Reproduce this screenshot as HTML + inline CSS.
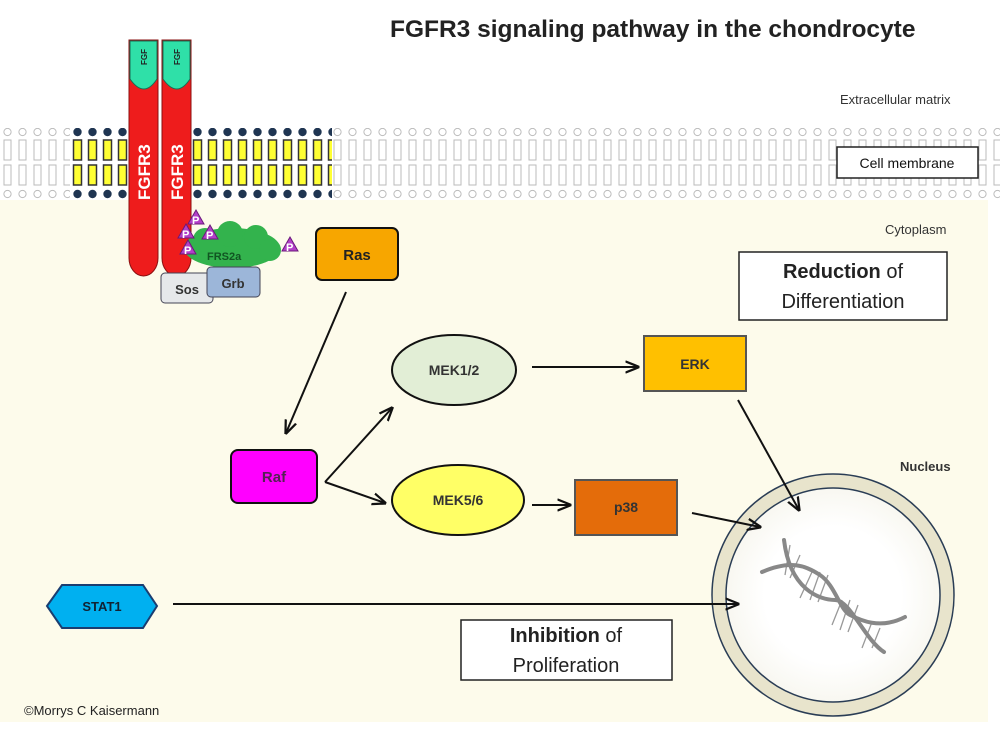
<!DOCTYPE html>
<html><head><meta charset="utf-8"><style>
html,body{margin:0;padding:0;background:#fff}
svg{display:block}
text{font-family:"Liberation Sans",sans-serif}
</style></head><body>
<svg width="1000" height="731" viewBox="0 0 1000 731" xmlns="http://www.w3.org/2000/svg">
<defs>
<marker id="ah" viewBox="0 0 10 10" refX="9" refY="5" markerWidth="7" markerHeight="7" orient="auto"><path d="M0,1 L10,5 L0,9" fill="none" stroke="#111" stroke-width="1.6"/></marker>
<radialGradient id="nuc" cx="0.5" cy="0.5" r="0.5"><stop offset="0.6" stop-color="#fff"/><stop offset="1" stop-color="#f7f6ee"/></radialGradient>
<pattern id="lipG" x="0" y="128" width="15" height="72" patternUnits="userSpaceOnUse">
<circle cx="7.5" cy="4" r="3.6" fill="#fff" stroke="#bbb" stroke-width="1"/>
<rect x="4" y="12" width="7" height="20" fill="#fff" stroke="#bbb" stroke-width="1"/>
<rect x="4" y="37" width="7" height="20" fill="#fff" stroke="#bbb" stroke-width="1"/>
<circle cx="7.5" cy="66" r="3.6" fill="#fff" stroke="#bbb" stroke-width="1"/>
</pattern>
<pattern id="lipC" x="70" y="128" width="15" height="72" patternUnits="userSpaceOnUse">
<circle cx="7.5" cy="4" r="4.2" fill="#1f3552"/>
<rect x="3.5" y="12" width="8" height="20" fill="#ffff33" stroke="#333" stroke-width="1.5"/>
<rect x="3.5" y="37" width="8" height="20" fill="#ffff33" stroke="#333" stroke-width="1.5"/>
<circle cx="7.5" cy="66" r="4.2" fill="#1f3552"/>
</pattern>
</defs>
<rect x="0" y="200" width="988" height="522" fill="#fdfbeb"/>
<text x="390" y="37" font-size="24.5" font-weight="bold" fill="#222">FGFR3 signaling pathway in the chondrocyte</text>
<text x="840" y="104" font-size="13" fill="#333">Extracellular matrix</text>
<rect x="0" y="128" width="1000" height="72" fill="url(#lipG)"/>
<rect x="70" y="128" width="262" height="72" fill="#fff"/>
<rect x="70" y="128" width="262" height="72" fill="url(#lipC)"/>
<rect x="837" y="147" width="141" height="31" fill="#fff" stroke="#222" stroke-width="1.5"/>
<text x="907" y="168" font-size="14" text-anchor="middle" fill="#111">Cell membrane</text>
<text x="885" y="234" font-size="13" fill="#333">Cytoplasm</text>
<!-- receptors -->
<path d="M129,40 h29 v218 a14.5,18 0 0 1 -29,0 z" fill="#ee1c1c" stroke="#8a1010" stroke-width="1"/>
<path d="M162,40 h29 v218 a14.5,18 0 0 1 -29,0 z" fill="#ee1c1c" stroke="#8a1010" stroke-width="1"/>
<path d="M130,41 h27 v38 q-13,20 -27,0 z" fill="#2fe0a8" stroke="#1a6d55"/>
<path d="M163,41 h27 v38 q-13,20 -27,0 z" fill="#2fe0a8" stroke="#1a6d55"/>
<text transform="translate(147,65) rotate(-90)" font-size="8" font-weight="bold" fill="#222">FGF</text>
<text transform="translate(180,65) rotate(-90)" font-size="8" font-weight="bold" fill="#222">FGF</text>
<text transform="translate(150,200) rotate(-90)" font-size="17" font-weight="bold" fill="#fff">FGFR3</text>
<text transform="translate(183,200) rotate(-90)" font-size="17" font-weight="bold" fill="#fff">FGFR3</text>
<!-- FRS2a cloud -->
<ellipse cx="232" cy="248" rx="48" ry="20" fill="#33b34d"/>
<circle cx="205" cy="240" r="12" fill="#33b34d"/><circle cx="230" cy="234" r="13" fill="#33b34d"/><circle cx="256" cy="237" r="12" fill="#33b34d"/><circle cx="270" cy="250" r="11" fill="#33b34d"/>
<text x="207" y="260" font-size="11" font-weight="bold" fill="#115522">FRS2a</text>
<g fill="#b23fc8" stroke="#6a1a7a">
<path d="M196,210 l8,14 h-16z"/><path d="M186,224 l8,14 h-16z"/><path d="M210,225 l8,14 h-16z"/><path d="M188,240 l8,14 h-16z"/><path d="M290,237 l8,14 h-16z"/>
</g>
<g fill="#fff" font-size="11" font-weight="bold"><text x="192" y="224">P</text><text x="182" y="238">P</text><text x="206" y="239">P</text><text x="184" y="254">P</text><text x="286" y="251">P</text></g>
<rect x="161" y="273" width="52" height="30" rx="4" fill="#e6e8ea" stroke="#445"/>
<text x="187" y="294" font-size="13" font-weight="bold" text-anchor="middle" fill="#333">Sos</text>
<rect x="207" y="267" width="53" height="30" rx="4" fill="#9cb6d9" stroke="#445"/>
<text x="233" y="288" font-size="13" font-weight="bold" text-anchor="middle" fill="#333">Grb</text>
<!-- nodes -->
<rect x="316" y="228" width="82" height="52" rx="6" fill="#f7a600" stroke="#111" stroke-width="2"/>
<text x="357" y="260" font-size="15" font-weight="bold" text-anchor="middle" fill="#222">Ras</text>
<rect x="739" y="252" width="208" height="68" fill="#fff" stroke="#222" stroke-width="1.5"/>
<text x="843" y="278" font-size="20" text-anchor="middle" fill="#222"><tspan font-weight="bold">Reduction</tspan> of</text>
<text x="843" y="308" font-size="20" text-anchor="middle" fill="#222">Differentiation</text>
<ellipse cx="454" cy="370" rx="62" ry="35" fill="#e2eed6" stroke="#111" stroke-width="2"/>
<text x="454" y="375" font-size="14" font-weight="bold" text-anchor="middle" fill="#333">MEK1/2</text>
<rect x="644" y="336" width="102" height="55" fill="#ffc000" stroke="#555" stroke-width="2"/>
<text x="695" y="369" font-size="14" font-weight="bold" text-anchor="middle" fill="#333">ERK</text>
<rect x="231" y="450" width="86" height="53" rx="7" fill="#ff00ff" stroke="#111" stroke-width="2"/>
<text x="274" y="482" font-size="15" font-weight="bold" text-anchor="middle" fill="#552255">Raf</text>
<ellipse cx="458" cy="500" rx="66" ry="35" fill="#ffff66" stroke="#111" stroke-width="2"/>
<text x="458" y="505" font-size="14" font-weight="bold" text-anchor="middle" fill="#333">MEK5/6</text>
<rect x="575" y="480" width="102" height="55" fill="#e46c0a" stroke="#555" stroke-width="2"/>
<text x="626" y="512" font-size="14" font-weight="bold" text-anchor="middle" fill="#333">p38</text>
<path d="M47,606 L62,585 H143 L157,606 L143,628 H62 Z" fill="#00b0f0" stroke="#1a3d70" stroke-width="2"/>
<text x="102" y="611" font-size="13" font-weight="bold" text-anchor="middle" fill="#123">STAT1</text>
<!-- nucleus -->
<circle cx="833" cy="595" r="114" fill="url(#nuc)" stroke="#e8e4cc" stroke-width="14"/>
<circle cx="833" cy="595" r="121" fill="none" stroke="#2a3d55" stroke-width="1.5"/>
<circle cx="833" cy="595" r="107" fill="none" stroke="#2a3d55" stroke-width="1.5"/>
<text x="900" y="471" font-size="13" font-weight="bold" fill="#333">Nucleus</text>
<g stroke="#999" stroke-width="1.3">
<line x1="790" y1="545" x2="785" y2="575"/><line x1="800" y1="555" x2="790" y2="578"/>
<line x1="812" y1="572" x2="800" y2="598"/><line x1="820" y1="572" x2="810" y2="600"/><line x1="828" y1="575" x2="818" y2="602"/>
<line x1="842" y1="600" x2="832" y2="625"/><line x1="850" y1="600" x2="840" y2="630"/><line x1="858" y1="605" x2="848" y2="632"/>
<line x1="872" y1="622" x2="862" y2="648"/><line x1="880" y1="628" x2="872" y2="648"/>
</g>
<g stroke="#888" stroke-width="4" fill="none" stroke-linecap="round">
<path d="M784,540 C790,590 820,600 835,600 S865,640 884,652"/>
<path d="M762,572 C790,560 805,565 820,575 S840,610 850,615 S880,630 905,617"/>
</g>
<!-- arrows -->
<g stroke="#111" stroke-width="2" fill="none" marker-end="url(#ah)">
<line x1="346" y1="292" x2="286" y2="433"/>
<line x1="325" y1="482" x2="392" y2="408"/>
<line x1="325" y1="482" x2="385" y2="503"/>
<line x1="532" y1="367" x2="638" y2="367"/>
<line x1="532" y1="505" x2="570" y2="505"/>
<line x1="738" y1="400" x2="799" y2="510"/>
<line x1="692" y1="513" x2="760" y2="527"/>
<line x1="173" y1="604" x2="738" y2="604"/>
</g>
<rect x="461" y="620" width="211" height="60" fill="#fff" stroke="#222" stroke-width="1.5"/>
<text x="566" y="642" font-size="20" text-anchor="middle" fill="#222"><tspan font-weight="bold">Inhibition</tspan> of</text>
<text x="566" y="672" font-size="20" text-anchor="middle" fill="#222">Proliferation</text>
<text x="24" y="715" font-size="13" fill="#222">©Morrys C Kaisermann</text>
</svg>
</body></html>
